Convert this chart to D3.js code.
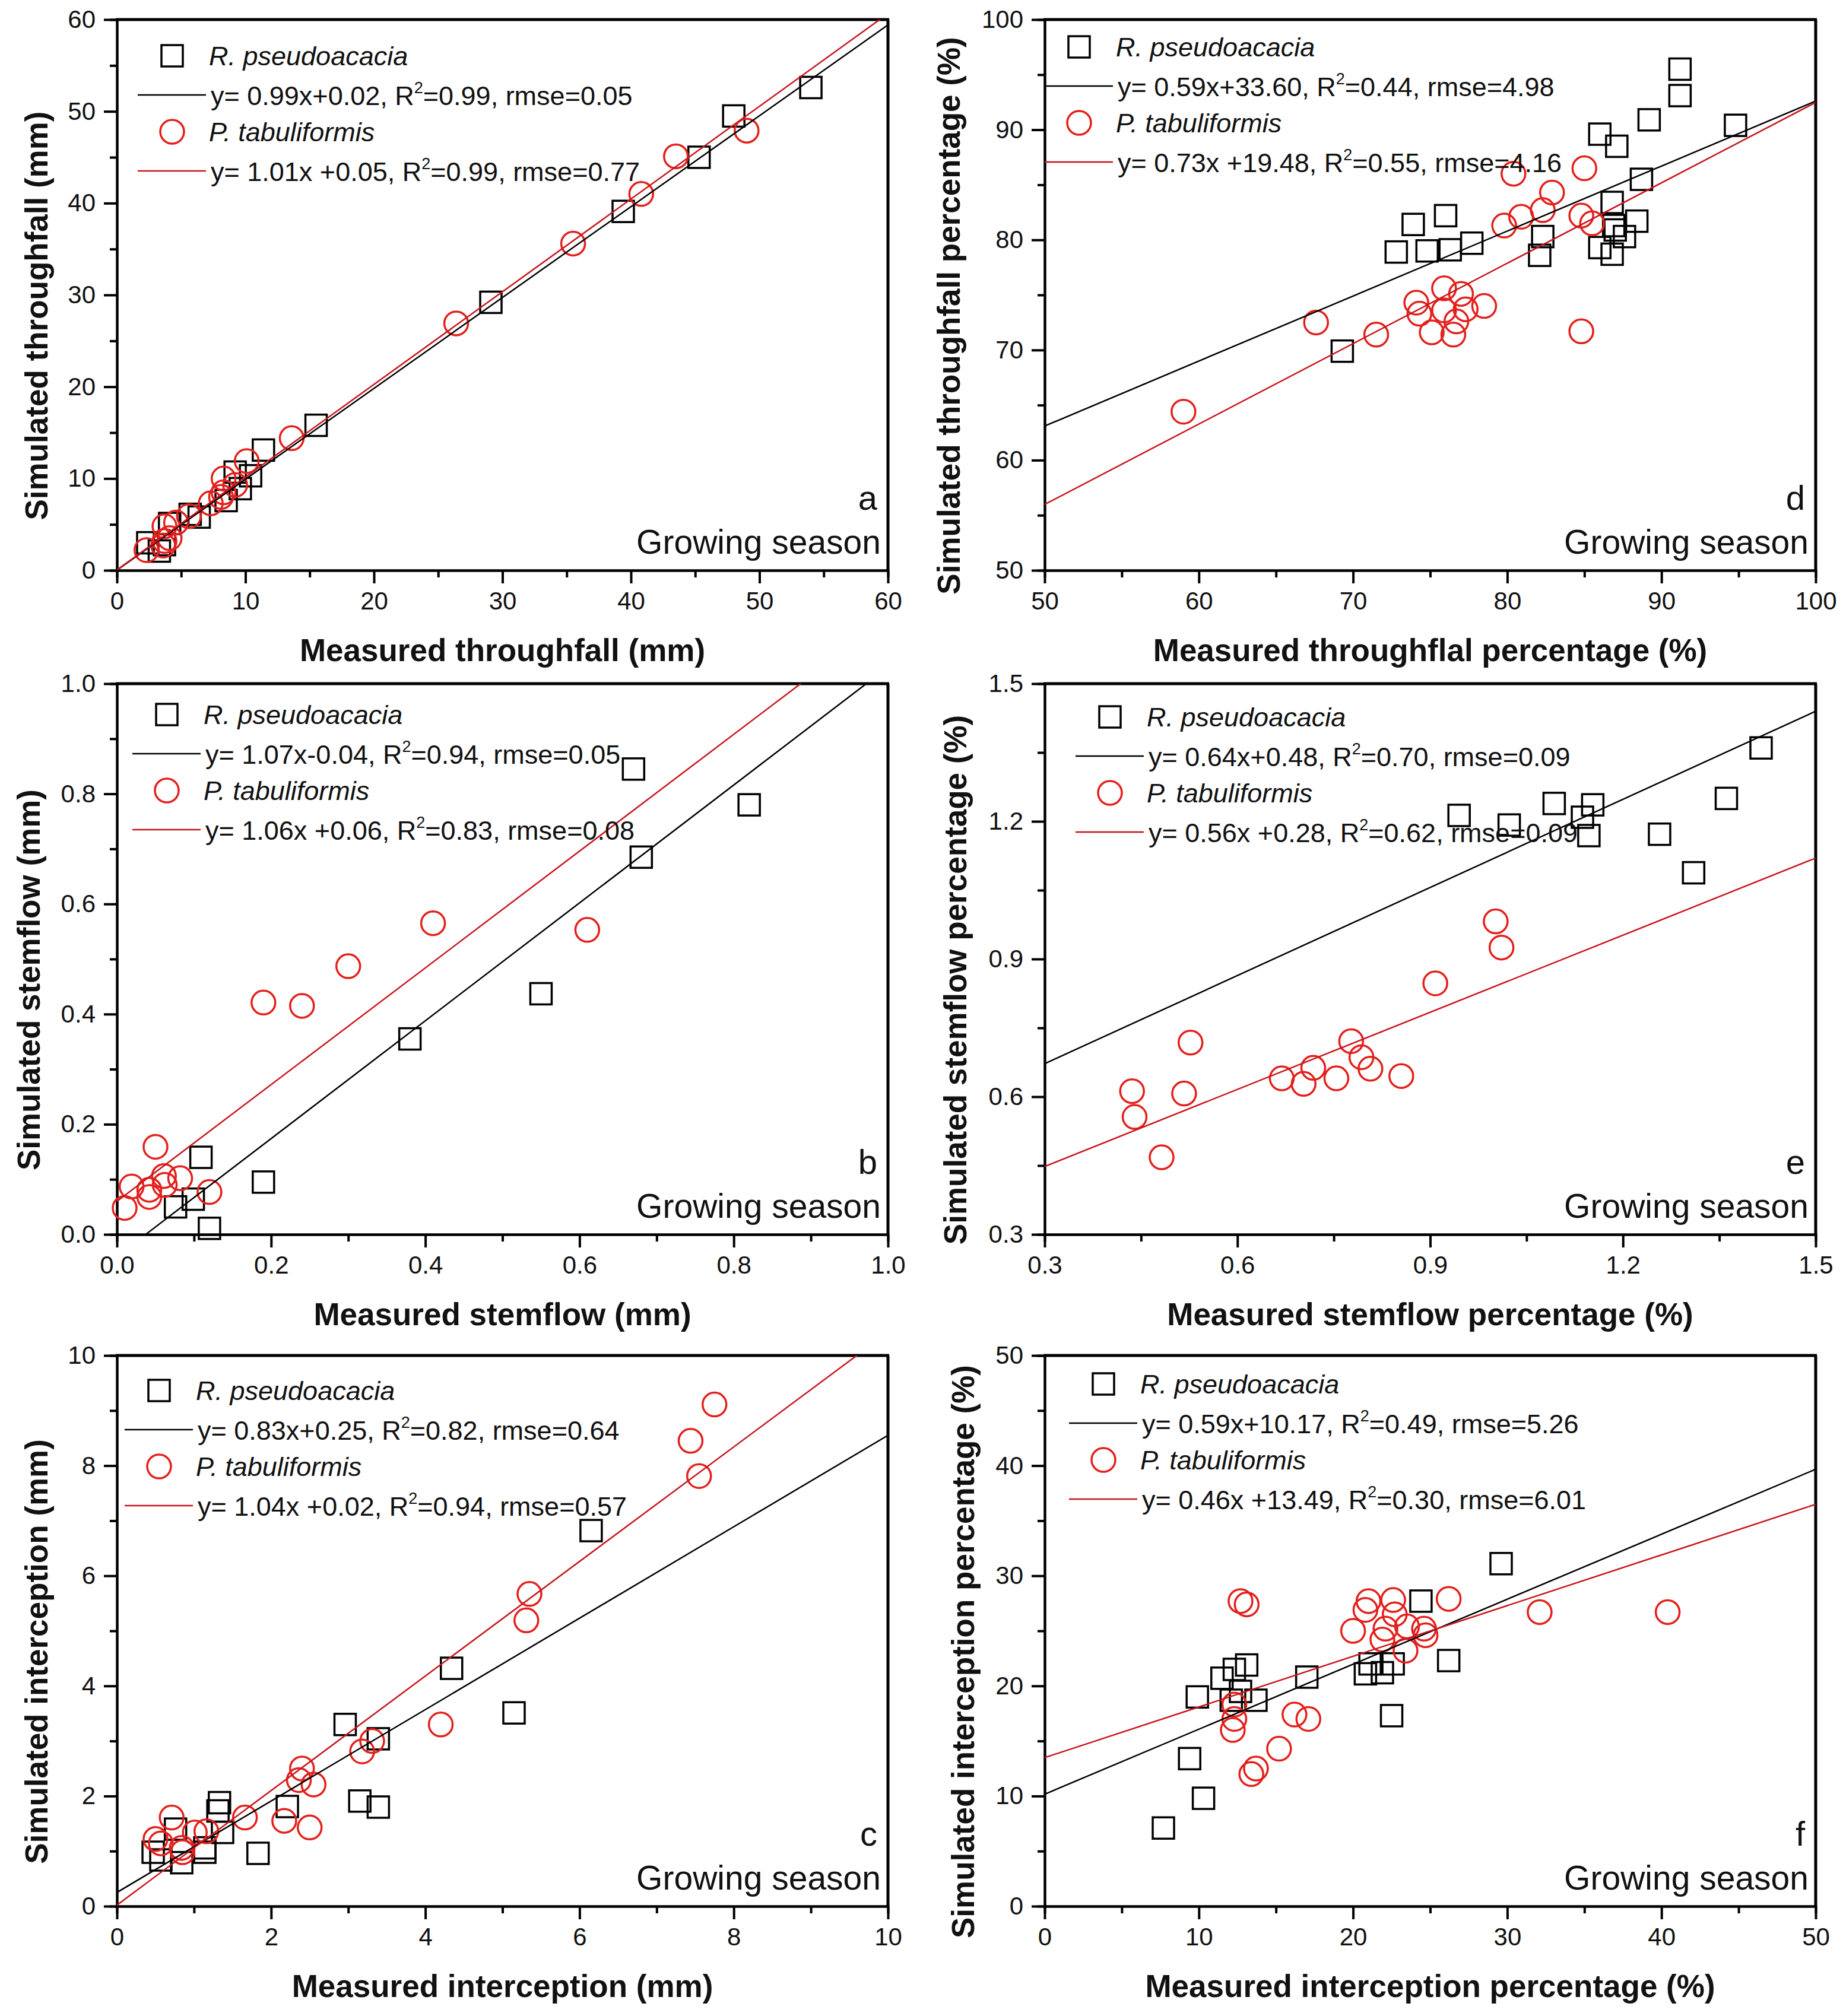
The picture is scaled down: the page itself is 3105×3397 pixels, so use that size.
<!DOCTYPE html>
<html>
<head>
<meta charset="utf-8">
<script src="https://cdn.jsdelivr.net/npm/d3@7"></script>
<style>
  body { margin: 0; background: #fff; }
  svg { display: block; background: #fff; }
  text { font-family: "Liberation Sans", Arial, sans-serif; fill: #111; }
</style>
</head>
<body>
<svg width="3105" height="3397"></svg>
<script>
// ---- data: [measured, simulated] ----
// a: throughfall (mm)
const tfRp = [[54,52.6],[48,49.5],[45.3,45],[39.4,39.1],[29.1,29.2],[15.5,15.8],[11.4,13.1],[10.4,10.3],[9.6,8.9],[8.5,7.6],[9.2,10.7],[6.4,5.8],[5.7,6.1],[4.1,5.1],[3.7,2.8],[3.3,2.1],[2.4,3.0]];
const tfPt = [[49,47.9],[43.5,45.1],[40.8,41],[35.5,35.6],[26.4,26.9],[13.6,14.4],[10.1,11.9],[8.3,10],[9.2,9.3],[8.3,8.5],[8.1,8],[7.3,7.3],[5.6,5.9],[4.6,5.2],[3.7,4.8],[4.1,3.5],[3.7,3.2],[3.6,2.7],[2.3,2.2]];
// d: throughfall percentage (%)
const tfpRp = [[91.2,95.5],[91.2,93.1],[89.2,90.9],[94.8,90.4],[86.0,89.6],[87.1,88.5],[88.7,85.5],[86.8,83.4],[76.0,82.2],[73.9,81.4],[72.8,78.9],[74.8,79.0],[76.3,79.1],[77.7,79.7],[82.1,78.6],[82.3,80.3],[86.0,79.3],[86.8,78.7],[87.6,80.3],[88.4,81.7],[87.0,80.9],[86.9,81.3],[69.3,69.9]];
const tfpPt = [[80.4,86.0],[85.0,86.5],[82.9,84.3],[80.9,82.1],[79.8,81.3],[82.3,82.7],[84.8,82.2],[85.5,81.5],[75.9,75.6],[77.0,75.1],[74.1,74.3],[74.3,73.3],[75.9,73.6],[77.3,73.7],[78.5,74.0],[76.7,72.6],[75.1,71.6],[76.5,71.4],[71.5,71.4],[67.6,72.5],[84.8,71.7],[59.0,64.4]];
// b: stemflow (mm)
const sfRp = [[0.82,0.78],[0.68,0.685],[0.67,0.845],[0.55,0.437],[0.38,0.355],[0.109,0.14],[0.19,0.095],[0.076,0.05],[0.099,0.064],[0.12,0.011]];
const sfPt = [[0.41,0.565],[0.61,0.553],[0.30,0.487],[0.19,0.421],[0.24,0.415],[0.05,0.159],[0.061,0.106],[0.082,0.102],[0.019,0.087],[0.042,0.081],[0.062,0.09],[0.12,0.077],[0.01,0.048],[0.042,0.068]];
// e: stemflow percentage (%)
const sfpRp = [[1.415,1.36],[1.361,1.25],[1.093,1.239],[1.153,1.236],[0.945,1.213],[1.137,1.209],[1.023,1.192],[1.147,1.169],[1.257,1.172],[1.31,1.088]];
const sfpPt = [[1.002,0.982],[1.011,0.925],[0.908,0.847],[0.527,0.718],[0.777,0.721],[0.793,0.686],[0.807,0.661],[0.718,0.663],[0.669,0.64],[0.703,0.628],[0.754,0.64],[0.855,0.645],[0.436,0.612],[0.517,0.607],[0.44,0.556],[0.482,0.468]];
// c: interception (mm)
const icRp = [[6.15,6.82],[4.34,4.32],[5.15,3.51],[2.96,3.3],[3.39,3.04],[3.15,1.91],[3.39,1.8],[2.21,1.81],[1.33,1.88],[1.31,1.73],[1.37,1.34],[1.83,0.96],[1.14,0.98],[1.14,1.06],[0.47,0.98],[0.57,0.84],[0.84,0.79],[0.76,1.4]];
const icPt = [[7.75,9.11],[7.44,8.45],[7.55,7.81],[5.35,5.67],[5.31,5.19],[4.2,3.3],[3.31,3.0],[3.18,2.81],[2.4,2.5],[2.36,2.29],[2.55,2.21],[2.17,1.55],[2.5,1.43],[1.66,1.61],[0.71,1.61],[1.16,1.36],[1.01,1.34],[0.5,1.22],[0.57,1.14],[0.84,1.06],[0.85,0.98]];
// f: interception percentage (%)
const icpRp = [[29.6,31.1],[24.4,27.7],[26.2,22.3],[22.6,22.0],[21.1,22.0],[20.8,21.1],[21.9,21.2],[22.5,17.3],[17.0,20.8],[13.1,21.9],[12.3,21.5],[11.5,20.7],[12.7,19.5],[12.1,18.7],[13.7,18.7],[9.9,19.0],[9.4,13.4],[10.3,9.8],[7.7,7.1]];
const icpPt = [[40.4,26.7],[32.1,26.7],[26.2,27.9],[21.0,27.7],[22.6,27.8],[20.8,26.9],[22.7,26.5],[20.0,25.0],[22.1,25.2],[23.5,25.4],[24.6,25.2],[24.7,24.6],[21.9,24.2],[23.4,23.2],[12.7,27.7],[13.1,27.4],[12.3,17.0],[12.2,16.0],[12.3,18.3],[16.2,17.4],[17.1,17.0],[15.2,14.3],[13.7,12.5],[13.4,12.0]];

// regression fits [slope, intercept]
const fitTfRp = [0.99, 0.02], fitTfPt = [1.01, 0.05];
const fitTfpRp = [0.59, 33.60], fitTfpPt = [0.73, 19.48];
const fitSfRp = [1.07, -0.04], fitSfPt = [1.06, 0.06];
const fitSfpRp = [0.64, 0.48], fitSfpPt = [0.56, 0.28];
const fitIcRp = [0.83, 0.25], fitIcPt = [1.04, 0.02];
const fitIcpRp = [0.59, 10.17], fitIcpPt = [0.46, 13.49];

const eqTf = ["y= 0.99x+0.02, R2=0.99, rmse=0.05", "y= 1.01x +0.05, R2=0.99, rmse=0.77"];
const eqTfp = ["y= 0.59x+33.60, R2=0.44, rmse=4.98", "y= 0.73x +19.48, R2=0.55, rmse=4.16"];
const eqSf = ["y= 1.07x-0.04, R2=0.94, rmse=0.05", "y= 1.06x +0.06, R2=0.83, rmse=0.08"];
const eqSfp = ["y= 0.64x+0.48, R2=0.70, rmse=0.09", "y= 0.56x +0.28, R2=0.62, rmse=0.09"];
const eqIc = ["y= 0.83x+0.25, R2=0.82, rmse=0.64", "y= 1.04x +0.02, R2=0.94, rmse=0.57"];
const eqIcp = ["y= 0.59x+10.17, R2=0.49, rmse=5.26", "y= 0.46x +13.49, R2=0.30, rmse=6.01"];

const species = ["R. pseudoacacia", "P. tabuliformis"];

// ---- layout ----
const W = 1299, H = 928;
const RED = "#e3201c", RED_LINE = "#c8161d";

const panels = [
  { id: "a", left: 197, top: 33, xd: [0, 60], yd: [0, 60], step: 10, fmt: "d",
    rp: tfRp, pt: tfPt, fits: [fitTfRp, fitTfPt], eq: eqTf,
    xTitle: "Measured throughfall (mm)", yTitle: "Simulated throughfall (mm)",
    legX: 35, legY: 61, yTitleX: -136 },
  { id: "d", left: 1760, top: 33, xd: [50, 100], yd: [50, 100], step: 10, fmt: "d",
    rp: tfpRp, pt: tfpPt, fits: [fitTfpRp, fitTfpPt], eq: eqTfp,
    xTitle: "Measured throughflal percentage (%)", yTitle: "Simulated throughfall percentage (%)",
    legX: 0, legY: 46, yTitleX: -162 },
  { id: "b", left: 197, top: 1152, xd: [0, 1], yd: [0, 1], step: 0.2, fmt: ".1f",
    rp: sfRp, pt: sfPt, fits: [fitSfRp, fitSfPt], eq: eqSf,
    xTitle: "Measured stemflow (mm)", yTitle: "Simulated stemflow (mm)",
    legX: 26, legY: 52, yTitleX: -149 },
  { id: "e", left: 1760, top: 1152, xd: [0.3, 1.5], yd: [0.3, 1.5], step: 0.3, fmt: ".1f",
    rp: sfpRp, pt: sfpPt, fits: [fitSfpRp, fitSfpPt], eq: eqSfp,
    xTitle: "Measured stemflow percentage (%)", yTitle: "Simulated stemflow percentage (%)",
    legX: 52, legY: 56, yTitleX: -151 },
  { id: "c", left: 197, top: 2284, xd: [0, 10], yd: [0, 10], step: 2, fmt: "d",
    rp: icRp, pt: icPt, fits: [fitIcRp, fitIcPt], eq: eqIc,
    xTitle: "Measured interception (mm)", yTitle: "Simulated interception (mm)",
    legX: 13, legY: 59, yTitleX: -136 },
  { id: "f", left: 1760, top: 2284, xd: [0, 50], yd: [0, 50], step: 10, fmt: "d",
    rp: icpRp, pt: icpPt, fits: [fitIcpRp, fitIcpPt], eq: eqIcp,
    xTitle: "Measured interception percentage (%)", yTitle: "Simulated interception percentage (%)",
    legX: 41, legY: 48, yTitleX: -138 }
];

const svg = d3.select("svg");

function tickVals(d, step) {
  const n = Math.round((d[1] - d[0]) / step);
  return d3.range(n + 1).map(i => +(d[0] + i * step).toFixed(4));
}

function styleAxis(sel) {
  sel.select(".domain").attr("stroke", "#000").attr("stroke-width", 4);
  sel.selectAll(".tick line").attr("stroke", "#000").attr("stroke-width", 4);
  sel.selectAll(".tick text").style("font-size", "42px").attr("fill", "#111");
}

function addEquation(g, x, y, str) {
  const parts = str.split("R2");
  const t = g.append("text").attr("x", x).attr("y", y).style("font-size", "45px");
  t.append("tspan").text(parts[0] + "R");
  t.append("tspan").attr("dy", -20).style("font-size", "27px").text("2");
  t.append("tspan").attr("dy", 20).text(parts[1]);
}

function square(g, cx, cy) {
  g.append("rect")
    .attr("x", cx - 18).attr("y", cy - 18)
    .attr("width", 36).attr("height", 36)
    .attr("fill", "none").attr("stroke", "#000").attr("stroke-width", 3.5);
}

function circle(g, cx, cy) {
  g.append("circle")
    .attr("cx", cx).attr("cy", cy).attr("r", 20)
    .attr("fill", "none").attr("stroke", RED).attr("stroke-width", 3.5);
}

panels.forEach(p => {
  const g = svg.append("g").attr("transform", `translate(${p.left},${p.top})`);
  const x = d3.scaleLinear().domain(p.xd).range([0, W]);
  const y = d3.scaleLinear().domain(p.yd).range([H, 0]);

  const clipId = "clip-" + p.id;
  g.append("clipPath").attr("id", clipId)
    .append("rect").attr("width", W).attr("height", H);

  const xMaj = tickVals(p.xd, p.step), yMaj = tickVals(p.yd, p.step);
  const xMin = tickVals(p.xd, p.step / 2).filter(v => !xMaj.some(m => Math.abs(m - v) < 1e-6));
  const yMin = tickVals(p.yd, p.step / 2).filter(v => !yMaj.some(m => Math.abs(m - v) < 1e-6));
  const fmt = d3.format(p.fmt);

  // minor ticks
  g.append("g").attr("transform", `translate(0,${H})`)
    .call(d3.axisBottom(x).tickValues(xMin).tickSize(12).tickFormat(""))
    .call(styleAxis);
  g.append("g")
    .call(d3.axisLeft(y).tickValues(yMin).tickSize(12).tickFormat(""))
    .call(styleAxis);

  // major ticks + labels
  g.append("g").attr("transform", `translate(0,${H})`)
    .call(d3.axisBottom(x).tickValues(xMaj).tickSize(22).tickSizeOuter(0).tickPadding(14).tickFormat(fmt))
    .call(styleAxis);
  g.append("g")
    .call(d3.axisLeft(y).tickValues(yMaj).tickSize(22).tickSizeOuter(0).tickPadding(14).tickFormat(fmt))
    .call(styleAxis);

  // top and right frame
  g.append("line").attr("x1", -2).attr("x2", W + 2).attr("y1", 0).attr("y2", 0)
    .attr("stroke", "#000").attr("stroke-width", 5);
  g.append("line").attr("x1", W).attr("x2", W).attr("y1", 0).attr("y2", H)
    .attr("stroke", "#000").attr("stroke-width", 5);

  // markers
  const marks = g.append("g");
  p.rp.forEach(d => square(marks, x(d[0]), y(d[1])));
  p.pt.forEach(d => circle(marks, x(d[0]), y(d[1])));

  // regression lines
  const lines = g.append("g").attr("clip-path", `url(#${clipId})`);
  p.fits.forEach((f, i) => {
    lines.append("line")
      .attr("x1", x(p.xd[0])).attr("y1", y(f[0] * p.xd[0] + f[1]))
      .attr("x2", x(p.xd[1])).attr("y2", y(f[0] * p.xd[1] + f[1]))
      .attr("stroke", i === 0 ? "#000" : RED_LINE).attr("stroke-width", 2.5);
  });

  // legend
  const lg = g.append("g").attr("transform", `translate(${p.legX},${p.legY})`);
  const rows = [0, 66, 128, 194];
  square(lg, 58, rows[0]);
  lg.append("text").attr("x", 120).attr("y", rows[0] + 16)
    .style("font-size", "45px").style("font-style", "italic").text(species[0]);
  lg.append("line").attr("x1", 0).attr("x2", 115).attr("y1", rows[1]).attr("y2", rows[1])
    .attr("stroke", "#000").attr("stroke-width", 2.5);
  addEquation(lg, 123, rows[1] + 17, p.eq[0]);
  circle(lg, 58, rows[2]);
  lg.append("text").attr("x", 120).attr("y", rows[2] + 16)
    .style("font-size", "45px").style("font-style", "italic").text(species[1]);
  lg.append("line").attr("x1", 0).attr("x2", 115).attr("y1", rows[3]).attr("y2", rows[3])
    .attr("stroke", RED_LINE).attr("stroke-width", 2.5);
  addEquation(lg, 123, rows[3] + 17, p.eq[1]);

  // panel letter and season label
  g.append("text").attr("x", W - 18).attr("y", H - 102).attr("text-anchor", "end")
    .style("font-size", "58px").text(p.id);
  g.append("text").attr("x", W - 12).attr("y", H - 28).attr("text-anchor", "end")
    .style("font-size", "57px").text("Growing season");

  // axis titles
  g.append("text").attr("x", W / 2).attr("y", H + 153).attr("text-anchor", "middle")
    .style("font-size", "53px").style("font-weight", "bold").text(p.xTitle);
  g.append("text")
    .attr("transform", `translate(${p.yTitleX + 19},${H / 2 + 35}) rotate(-90)`)
    .attr("text-anchor", "middle")
    .style("font-size", "53px").style("font-weight", "bold").text(p.yTitle);
});
</script>
</body>
</html>
